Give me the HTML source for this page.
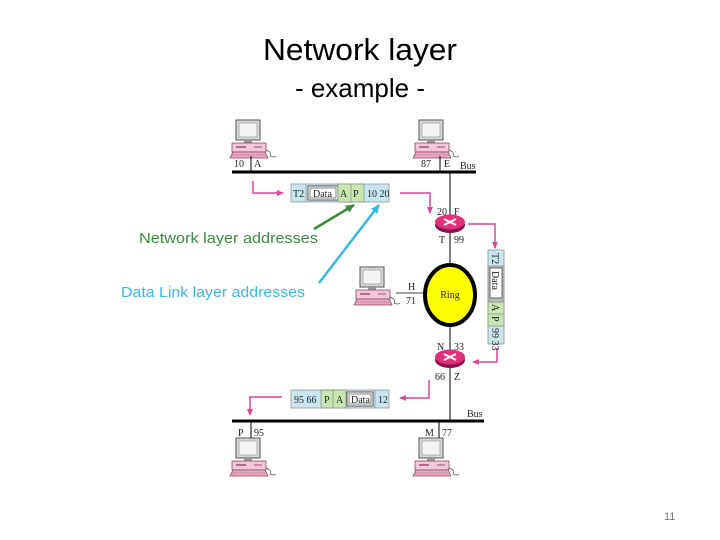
<!DOCTYPE html>
<html><head><meta charset="utf-8"><style>
html,body{margin:0;padding:0;background:#fff;}
svg{display:block;}
.s{font-family:"Liberation Serif",serif;font-size:10px;fill:#222;}
.c{font-family:"Liberation Sans",sans-serif;}
</style></head><body>
<svg width="720" height="540" viewBox="0 0 720 540" xmlns="http://www.w3.org/2000/svg">
<defs>
<marker id="pk" markerWidth="8" markerHeight="8" refX="6" refY="4" orient="auto" markerUnits="userSpaceOnUse"><path d="M0,1 L7,4 L0,7 z" fill="#d9479a"/></marker>
<marker id="gr" markerWidth="10" markerHeight="10" refX="8" refY="5" orient="auto" markerUnits="userSpaceOnUse"><path d="M0,1 L9,5 L0,9 z" fill="#3c8a3c"/></marker>
<marker id="bl" markerWidth="10" markerHeight="10" refX="8" refY="5" orient="auto" markerUnits="userSpaceOnUse"><path d="M0,1 L9,5 L0,9 z" fill="#3ab8e0"/></marker>
<g id="pc">
<rect x="6" y="0" width="24" height="20" fill="#d8d8d8" stroke="#555" stroke-width="1"/>
<rect x="9" y="3" width="18" height="14" fill="#f4f4f4" stroke="#888" stroke-width="0.6"/>
<rect x="14" y="20" width="8" height="3" fill="#999"/>
<rect x="2" y="23" width="34" height="9" fill="#f2c8d8" stroke="#8a4a6a" stroke-width="0.8"/>
<line x1="6" y1="27" x2="16" y2="27" stroke="#a04a70" stroke-width="1.5"/>
<line x1="24" y1="27" x2="32" y2="27" stroke="#a04a70" stroke-width="1"/>
<path d="M0,38 L3,32 L35,32 L38,38 z" fill="#e8a8c0" stroke="#8a4a6a" stroke-width="0.8"/>
<path d="M2,35 H36" stroke="#8a4a6a" stroke-width="0.6" stroke-dasharray="1,1"/>
<path d="M36,30 Q42,32 40,36 Q44,38 46,36" stroke="#555" fill="none" stroke-width="0.7"/>
</g>
<g id="rt">
<ellipse cx="0" cy="3" rx="15" ry="8" fill="#8a1050"/>
<ellipse cx="0" cy="0" rx="15" ry="7.5" fill="#e0307a"/>
<path d="M-6,-3 L6,3 M-6,3 L6,-3" stroke="#fff" stroke-width="2"/>
</g>
</defs>

<text x="360" y="60" text-anchor="middle" class="c" font-size="31" fill="#000" textLength="194" lengthAdjust="spacingAndGlyphs">Network layer</text>
<text x="360" y="97" text-anchor="middle" class="c" font-size="26" fill="#000">- example -</text>

<!-- buses -->
<line x1="232" y1="172" x2="476" y2="172" stroke="#000" stroke-width="3"/>
<line x1="232" y1="421" x2="484" y2="421" stroke="#000" stroke-width="3"/>
<line x1="450" y1="172" x2="450" y2="421" stroke="#000" stroke-width="1"/>

<!-- top computers -->
<use href="#pc" x="230" y="120"/>
<use href="#pc" x="413" y="120"/>
<line x1="251" y1="156" x2="251" y2="172" stroke="#000"/>
<line x1="440" y1="156" x2="440" y2="172" stroke="#000"/>
<text x="234" y="167" class="s">10</text><text x="254" y="167" class="s">A</text>
<text x="421" y="167" class="s">87</text><text x="444" y="167" class="s">E</text>
<text x="460" y="169" class="s">Bus</text>

<!-- top packet -->
<rect x="291" y="184" width="98" height="18" fill="#c8e6f0" stroke="#888" stroke-width="0.7"/>
<line x1="306" y1="184" x2="306" y2="202" stroke="#888" stroke-width="0.7"/>
<rect x="308" y="186" width="30" height="14" fill="#fff" stroke="#333" stroke-width="0.8"/>
<rect x="310" y="188" width="26" height="10" fill="none" stroke="#333" stroke-width="0.6"/>
<rect x="338" y="184" width="26" height="18" fill="#c7e6b0" stroke="#888" stroke-width="0.7"/>
<line x1="351" y1="184" x2="351" y2="202" stroke="#888" stroke-width="0.7"/>
<text x="293" y="197" class="s">T2</text>
<text x="313" y="197" class="s">Data</text>
<text x="340" y="197" class="s">A</text><text x="353" y="197" class="s">P</text>
<text x="367" y="197" class="s">10 20</text>

<!-- pink arrows -->
<path d="M253,181 V193 H283" stroke="#d9479a" fill="none" stroke-width="1.5" marker-end="url(#pk)"/>
<path d="M400,193 H430 V213" stroke="#d9479a" fill="none" stroke-width="1.5" marker-end="url(#pk)"/>
<path d="M468,224 H495 V248" stroke="#d9479a" fill="none" stroke-width="1.5" marker-end="url(#pk)"/>
<path d="M497,348 V362 H473" stroke="#d9479a" fill="none" stroke-width="1.5" marker-end="url(#pk)"/>
<path d="M429,380 V398 H400" stroke="#d9479a" fill="none" stroke-width="1.5" marker-end="url(#pk)"/>
<path d="M282,397 H250 V415" stroke="#d9479a" fill="none" stroke-width="1.5" marker-end="url(#pk)"/>

<!-- router F -->
<use href="#rt" x="450" y="222"/>
<text x="437" y="215" class="s">20</text><text x="454" y="215" class="s">F</text>
<text x="439" y="243" class="s">T</text><text x="454" y="243" class="s">99</text>

<!-- vertical packet -->
<rect x="488" y="250" width="16" height="94" fill="#c8e6f0" stroke="#888" stroke-width="0.7"/>
<rect x="488" y="266" width="16" height="36" fill="#bbb" stroke="#888" stroke-width="0.7"/>
<rect x="490" y="268" width="12" height="30" fill="#fff" stroke="#333" stroke-width="0.7"/>
<rect x="488" y="302" width="16" height="24" fill="#c7e6b0" stroke="#888" stroke-width="0.7"/>
<line x1="488" y1="314" x2="504" y2="314" stroke="#888" stroke-width="0.7"/>
<text transform="translate(492,253) rotate(90)" class="s">T2</text>
<text transform="translate(492,271) rotate(90)" class="s">Data</text>
<text transform="translate(492,304) rotate(90)" class="s">A</text>
<text transform="translate(492,316) rotate(90)" class="s">P</text>
<text transform="translate(492,328) rotate(90)" class="s">99 33</text>

<!-- ring -->
<ellipse cx="450" cy="295" rx="25" ry="30" fill="#ffff00" stroke="#000" stroke-width="4"/>
<text x="450" y="298" text-anchor="middle" class="s" font-size="11">Ring</text>
<use href="#pc" x="354" y="267"/>
<line x1="396" y1="293" x2="425" y2="293" stroke="#000" stroke-width="0.8"/>
<text x="408" y="290" class="s">H</text><text x="406" y="304" class="s">71</text>

<!-- router N -->
<use href="#rt" x="450" y="357"/>
<text x="437" y="350" class="s">N</text><text x="454" y="350" class="s">33</text>
<text x="435" y="380" class="s">66</text><text x="454" y="380" class="s">Z</text>

<!-- bottom packet -->
<rect x="291" y="390" width="98" height="18" fill="#c8e6f0" stroke="#888" stroke-width="0.7"/>
<rect x="321" y="390" width="25" height="18" fill="#c7e6b0" stroke="#888" stroke-width="0.7"/>
<line x1="333" y1="390" x2="333" y2="408" stroke="#888" stroke-width="0.7"/>
<rect x="347" y="392" width="26" height="14" fill="#fff" stroke="#333" stroke-width="0.8"/>
<rect x="349" y="394" width="22" height="10" fill="none" stroke="#333" stroke-width="0.6"/>
<line x1="375" y1="390" x2="375" y2="408" stroke="#888" stroke-width="0.7"/>
<text x="294" y="403" class="s">95 66</text>
<text x="324" y="403" class="s">P</text><text x="336" y="403" class="s">A</text>
<text x="351" y="403" class="s">Data</text>
<text x="378" y="403" class="s">12</text>
<text x="467" y="417" class="s">Bus</text>

<!-- bottom computers -->
<line x1="251" y1="421" x2="251" y2="438" stroke="#000"/>
<line x1="439" y1="421" x2="439" y2="438" stroke="#000"/>
<text x="238" y="436" class="s">P</text><text x="254" y="436" class="s">95</text>
<text x="425" y="436" class="s">M</text><text x="442" y="436" class="s">77</text>
<use href="#pc" x="230" y="438"/>
<use href="#pc" x="413" y="438"/>

<!-- annotation arrows -->
<line x1="314" y1="229" x2="354" y2="205" stroke="#3c8a3c" stroke-width="2.5" marker-end="url(#gr)"/>
<line x1="319" y1="283" x2="379" y2="205" stroke="#3ab8e0" stroke-width="2.5" marker-end="url(#bl)"/>
<text x="139" y="243" class="c" font-size="15" fill="#3c8a3c" textLength="179" lengthAdjust="spacingAndGlyphs">Network layer addresses</text>
<text x="121" y="297" class="c" font-size="15" fill="#3ab8e0" textLength="184" lengthAdjust="spacingAndGlyphs">Data Link layer addresses</text>

<text x="664" y="520" class="c" font-size="11" fill="#777">11</text>
</svg>
</body></html>
